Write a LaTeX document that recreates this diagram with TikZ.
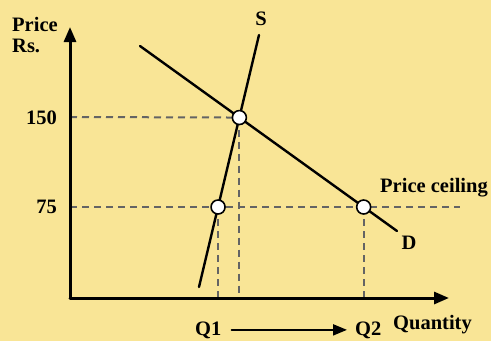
\documentclass[tikz,border=0pt]{standalone}
\usepackage{fontspec}
\setmainfont{Liberation Serif}
\usetikzlibrary{arrows.meta,calc}

\definecolor{paper}{RGB}{249,229,150}
\definecolor{guide}{RGB}{100,100,100}
\tikzset{
  lbl/.style={font=\fontsize{20.5}{21}\selectfont\bfseries, inner sep=0pt},
  guideline/.style={guide, line width=2pt, dash pattern=on 7pt off 5pt, line cap=butt},
  curve/.style={line width=2.4pt},
  eqdot/.style={circle, draw, fill=white, line width=1.6pt, minimum size=14pt, inner sep=0pt},
}

\begin{document}
\begin{tikzpicture}[x=1pt,y=-1pt, line cap=round, line join=round]
  \fill[paper] (0,0) rectangle (491,341);
  \useasboundingbox (0,0) rectangle (491,341);
  \clip (0,0) rectangle (491,341);
  % Axes.
  \coordinate (orig) at (70,298);
  \coordinate (ytop) at (70,27);
  \coordinate (xend) at (449,298);
  % Supply, demand and the ceiling.
  \coordinate (s1) at (259,35);
  \coordinate (s2) at (199,287);
  \coordinate (d1) at (140,46);
  \coordinate (d2) at (397,231);
  \coordinate (c1) at (70,207);
  \coordinate (c2) at (460,207);
  \coordinate (p1) at (70,117);
  \coordinate (eq) at (intersection of s1--s2 and d1--d2);
  \coordinate (cs) at (intersection of s1--s2 and c1--c2);
  \coordinate (cd) at (intersection of d1--d2 and c1--c2);
  % Guides.
  \draw[guideline] (p1) -- (eq);
  \draw[guideline] (c1) -- (c2);
  \draw[guideline] (eq) -- (eq |- orig);
  \draw[guideline] (cs) -- (cs |- orig);
  \draw[guideline] (cd) -- (cd |- orig);
  \draw[line width=3pt, -{Triangle[length=15pt,width=12pt]}] (orig) -- (ytop);
  \draw[line width=3pt, -{Triangle[length=15pt,width=12pt]}] (orig) -- (xend);
  \draw[curve] (s1) -- (s2);
  \draw[curve] (d1) -- (d2);
  \node[eqdot] (eqpt) at (eq) {};
  \node[eqdot] (supt) at (cs) {};
  \node[eqdot] (dempt) at (cd) {};
  % Labels.
  \node[lbl, align=left, anchor=north west] (ylab) at (12,17) {Price\\Rs.};
  \node[lbl, anchor=east] (hi) at (57,118) {150};
  \node[lbl, anchor=east] (lo) at (57,207) {75};
  \node[lbl] (slab) at (261,19) {S};
  \node[lbl] (dlab) at (409,243) {D};
  \node[lbl, anchor=west] (ceil) at (380,188) {Price ceiling};
  \node[lbl, anchor=west] (xlab) at (393,325) {Quantity};
  \node[lbl, anchor=base west] (q1) at (195,335) {Q1};
  \node[lbl, anchor=base west] (q2) at (355,335) {Q2};
  \draw[line width=2pt, -{Triangle[length=14pt,width=11pt]}, shorten <=10pt, shorten >=8pt] (q1.east) -- (q2.west);
\end{tikzpicture}
\end{document}
